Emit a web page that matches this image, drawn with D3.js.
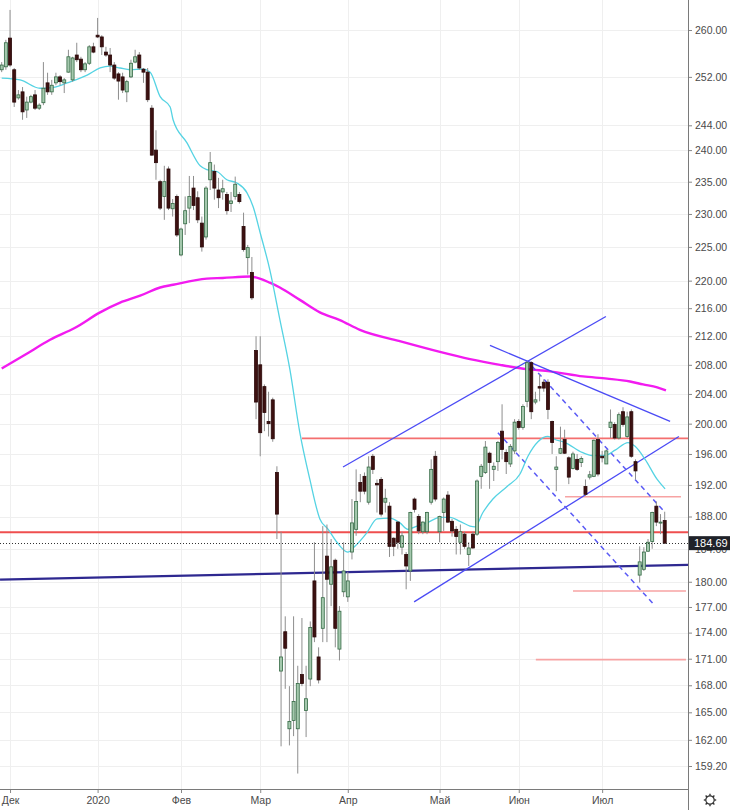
<!DOCTYPE html>
<html>
<head>
<meta charset="utf-8">
<script src="https://cdn.jsdelivr.net/npm/d3@7"></script>
<style>
  body { margin: 0; background: #fff; }
  svg { display: block; font-family: "Liberation Sans", Arial, sans-serif; }
</style>
</head>
<body>
<div id="chart"></div>
<script>
// daily candles, oldest first (late Nov 2019 .. mid Jul 2020)
var opens = [253.2,253.7,258.6,253.2,248.5,249.5,246.5,247.8,249.0,246.8,247.7,251.0,249.5,251.0,252.0,251.0,252.8,251.5,255.7,255.0,
  253.2,254.3,257.1,259.1,258.8,256.2,255.7,254.0,252.5,252.0,249.5,252.0,254.5,255.7,253.3,252.8,246.8,240.0,235.0,232.7,
  237.0,230.8,232.7,223.8,228.5,230.9,234.0,232.5,228.6,226.5,235.3,236.6,233.7,233.4,233.0,231.6,232.7,233.0,228.1,223.4,
  221.2,210.0,208.0,205.0,200.3,203.2,193.6,169.6,174.1,163.2,164.1,163.2,169.2,165.2,168.7,180.1,171.2,174.5,183.1,179.7,
  182.6,172.1,178.8,178.2,183.6,186.4,192.3,193.1,189.8,195.7,192.2,192.7,189.8,189.3,185.3,187.3,184.2,183.3,181.3,190.2,
  188.0,186.1,186.1,189.8,195.7,186.1,188.5,190.7,187.4,186.4,184.8,185.8,183.3,185.8,185.8,193.1,193.6,196.1,194.0,195.0,
  199.0,196.2,194.7,196.4,200.3,199.5,203.0,208.3,202.9,205.0,205.6,205.6,200.3,194.0,196.1,197.9,195.5,194.1,195.3,194.9,
  191.8,193.0,193.1,197.9,195.7,194.7,199.5,199.9,198.1,201.6,198.3,201.6,195.0,180.8,181.5,183.7,184.9,189.3,187.2,187.5];
var highs = [254.5,258.3,263.5,253.5,249.8,250.3,248.7,249.0,249.8,247.6,254.5,252.7,251.5,252.7,252.3,251.8,256.6,255.4,257.8,255.4,
  254.5,257.4,257.8,262.1,259.1,257.1,256.9,254.5,252.8,252.7,251.5,254.9,256.6,256.2,253.5,253.5,247.3,243.2,235.3,237.5,
  237.4,232.3,233.0,227.9,232.7,235.9,235.9,233.5,229.6,234.3,239.7,237.7,235.6,235.3,233.4,233.4,235.8,233.4,230.2,225.3,
  223.5,212.0,212.0,205.3,204.3,203.5,194.4,186.1,175.9,167.9,175.9,170.2,175.7,170.2,175.3,184.8,172.3,186.8,187.0,185.2,
  182.8,177.1,184.8,181.2,190.2,194.0,193.4,193.6,195.7,196.0,192.7,193.0,191.5,189.8,185.4,187.4,186.1,183.6,188.6,190.4,
  188.3,187.4,188.6,195.3,196.4,188.1,190.4,191.2,187.7,186.8,187.0,186.1,184.8,186.1,192.7,194.7,197.7,196.3,194.9,197.7,
  202.6,196.6,197.3,200.6,200.6,202.6,208.5,208.5,204.3,206.7,206.0,206.0,200.4,195.7,199.6,199.2,195.7,196.3,196.0,195.7,
  192.7,193.8,197.9,198.6,196.4,196.6,201.9,200.2,201.5,202.2,201.6,201.9,195.3,184.3,184.2,185.2,188.6,189.9,188.3,188.6];
var lows = [252.8,253.2,253.7,247.0,248.2,244.9,245.2,247.6,246.5,246.5,247.3,249.0,249.0,250.6,250.6,249.3,252.7,251.2,254.5,252.8,
  252.8,254.0,256.0,258.6,255.7,255.4,252.8,251.5,248.2,249.3,247.8,251.8,254.3,253.2,251.0,247.8,239.1,235.3,230.6,229.1,
  230.6,229.6,226.5,223.6,226.8,228.6,230.6,228.6,224.3,226.1,233.7,232.2,230.9,232.2,229.9,230.3,232.2,231.6,224.3,220.9,
  217.2,200.6,195.7,199.0,198.3,197.6,185.2,161.3,167.6,161.4,162.4,158.4,167.9,162.3,167.9,172.9,168.2,172.9,172.9,177.1,
  172.3,170.8,178.2,177.6,182.7,185.6,189.8,190.8,189.5,193.4,188.5,188.0,188.5,183.0,183.1,184.0,183.3,179.1,180.1,188.5,
  185.8,185.8,185.8,189.5,189.9,184.8,186.2,187.2,185.5,183.3,183.3,184.0,181.9,184.0,185.6,191.5,193.4,191.5,192.5,193.8,
  195.3,193.4,194.3,196.0,199.2,199.2,202.2,200.6,202.6,203.0,204.3,200.6,196.0,191.2,196.0,196.0,192.1,194.0,193.8,194.3,
  190.6,192.7,193.0,193.1,194.9,194.7,198.1,197.9,197.9,199.6,198.1,195.5,192.7,179.9,181.3,183.6,184.0,186.8,185.8,184.6];
var closes = [254.0,257.8,254.0,247.8,249.0,246.2,247.8,248.7,246.8,247.3,250.1,249.5,250.6,252.0,251.2,251.5,255.4,255.2,254.9,253.2,
  254.2,257.1,256.2,258.8,257.1,255.7,254.0,251.8,251.3,249.8,251.2,254.3,255.4,253.5,252.8,248.2,239.2,238.0,230.9,235.0,
  230.9,231.6,226.8,227.7,230.5,232.7,231.3,229.1,225.0,234.0,238.0,234.0,232.5,233.9,230.5,232.0,234.6,231.9,224.6,224.9,
  217.5,202.9,198.8,201.5,200.0,198.0,188.3,171.2,172.2,164.0,166.2,168.2,168.2,166.5,174.6,173.5,168.6,178.1,180.3,181.8,
  174.5,176.5,181.3,180.1,187.2,189.9,191.2,191.2,194.3,194.0,192.0,188.3,190.3,184.3,184.3,184.8,185.6,181.9,188.5,188.9,
  186.2,187.3,188.5,194.0,190.2,188.0,190.2,187.3,186.2,185.5,186.1,184.3,184.1,184.1,192.5,194.4,196.9,194.9,194.4,197.5,
  196.6,195.0,197.0,200.2,199.5,202.3,208.3,201.6,203.2,204.8,204.8,201.9,197.5,194.3,196.7,196.1,193.0,196.0,194.0,195.4,
  190.8,193.3,197.8,193.4,195.5,196.4,200.2,198.1,201.2,199.9,200.9,195.7,193.8,182.4,183.6,184.8,188.5,187.3,187.3,184.69];
var lastPrice = 184.69;

// axis labels
var yTicks = [260, 252, 244, 240, 235, 230, 225, 220, 216, 212, 208, 204, 200, 196, 192, 188, 184, 180, 177, 174, 171, 168, 165, 162, 159.2];
var monthLabels = ["Дек", "2020", "Фев", "Мар", "Апр", "Май", "Июн", "Июл"];
var monthIdx = [2, 23, 43, 62, 83, 105, 124, 144];

// moving averages (candle index, price)
var maFastIdx = [0, 4.4, 9.2, 12.8, 15.7, 20.5, 23.6, 26, 28.4, 30.8, 33.9, 35.6, 38, 40.4, 41.1, 44.4, 47.6, 49.2, 51.6, 54, 56.4, 58.8, 60.3, 62, 64.3, 66.7, 69.1, 71.5, 73.9, 76.3, 78.3, 80.4, 83, 84.7, 87.6, 90, 93.1, 95.5, 97.4, 99.6, 102, 105.1, 107.5, 109.9, 112.3, 113.5, 115.4, 117.8, 121.2, 124.3, 126.2, 128.6, 131, 132.7, 135.1, 139.2, 141.6, 144.7, 147.1, 150.2, 151.9, 154.3, 157.2, 159.1];
var maFastVal = [251.8, 251.5, 250.1, 250.3, 251.0, 252.3, 253.5, 253.8, 253.5, 253.2, 253.3, 252.8, 248.7, 247.0, 244.9, 241.2, 237.5, 236.9, 236.6, 235.3, 234.8, 233.3, 231.1, 227.1, 221.6, 214.4, 207.4, 198.8, 192.7, 187.7, 186.4, 184.8, 183.6, 184.3, 186.0, 187.7, 187.8, 187.2, 186.4, 186.8, 187.2, 187.9, 187.9, 187.4, 186.8, 186.7, 188.5, 190.2, 191.8, 193.4, 195.7, 197.6, 198.3, 197.9, 197.5, 196.2, 195.8, 195.8, 196.5, 197.5, 197.0, 195.3, 192.7, 191.5];
var maSlowIdx = [0, 5.6, 11.6, 17.6, 23.6, 28.4, 33.2, 38, 41.1, 49.2, 53, 59.5, 61.9, 64.3, 66.7, 71.5, 76.3, 81.1, 85.9, 95.5, 105.1, 112.3, 119.5, 126, 131.5, 139.4, 145.2, 150.7, 153.8, 157.2, 159.3];
var maSlowVal = [207.5, 209.4, 211.5, 213.2, 215.4, 216.8, 217.8, 219.0, 219.4, 220.3, 220.4, 220.6, 220.3, 219.7, 219.0, 217.2, 215.4, 214.3, 212.9, 211.3, 209.8, 208.8, 208.0, 207.4, 207.1, 206.4, 206.1, 205.7, 205.3, 204.9, 204.5];

// horizontal levels: price, from index, to index
var levelPrice = [198.05, 186.05, 190.5, 178.9, 170.9];
var levelFrom = [72, -1, 135.1, 137, 128.1];
var levelTo = [165, 165, 162.9, 164.1, 164.1];

// drawn trend lines: [index, price] end points
var supportLine = [[-0.4, 180.26], [164.6, 182.04]];
var channelTop = [[81.85, 194.3], [144.9, 214.8]];
var channelBottom = [[98.9, 177.6], [162.4, 198.3]];
var fallingTop = [[117.1, 210.7], [160.3, 200.3]];
var dashUpper = [[127.2, 207.8], [159.1, 188.5]];
var dashLower = [[119.0, 198.8], [156.2, 177.4]];

var width = 730, height = 810;
var plotRight = 688, plotBottom = 789;

var svg = d3.select("#chart").append("svg")
  .attr("width", width)
  .attr("height", height);

var x = d3.scaleLinear().domain([0, 159]).range([1.7, 664.7]);
var y = d3.scaleLog().domain([159.2, 260]).range([766, 30]);

svg.append("clipPath").attr("id", "plotClip")
  .append("rect").attr("x", 0).attr("y", 0).attr("width", plotRight).attr("height", plotBottom);

// grid
var grid = svg.append("g").attr("class", "grid");
grid.selectAll("line.h").data(yTicks).enter().append("line")
  .attr("x1", 0).attr("x2", plotRight)
  .attr("y1", function(d) { return Math.round(y(d)) + 0.5; })
  .attr("y2", function(d) { return Math.round(y(d)) + 0.5; })
  .attr("stroke", "#efefef");
grid.selectAll("line.v").data(monthIdx).enter().append("line")
  .attr("y1", 0).attr("y2", plotBottom)
  .attr("x1", function(d) { return Math.round(x(d)) + 0.5; })
  .attr("x2", function(d) { return Math.round(x(d)) + 0.5; })
  .attr("stroke", "#efefef");

var plot = svg.append("g").attr("clip-path", "url(#plotClip)");

// slow average (magenta)
var avgLine = d3.line()
  .x(function(d) { return x(d[0]); })
  .y(function(d) { return y(d[1]); })
  .curve(d3.curveMonotoneX);

plot.append("path")
  .datum(maSlowIdx.map(function(d, i) { return [d, maSlowVal[i]]; }))
  .attr("d", avgLine)
  .attr("fill", "none")
  .attr("stroke", "#f21bf0")
  .attr("stroke-width", 2.4);

// levels
var levelColor = ["#f46f6f", "#ef4f4f", "#f7a3a3", "#f7a3a3", "#f7a3a3"];
var levelWidth = [1.8, 2, 1.6, 1.6, 1.6];
plot.selectAll("line.level").data(levelPrice).enter().append("line")
  .attr("x1", function(d, i) { return x(levelFrom[i]); })
  .attr("x2", function(d, i) { return x(levelTo[i]); })
  .attr("y1", function(d) { return y(d); })
  .attr("y2", function(d) { return y(d); })
  .attr("stroke", function(d, i) { return levelColor[i]; })
  .attr("stroke-width", function(d, i) { return levelWidth[i]; });

// support line (navy)
function drawTrend(pts, color, w, dash) {
  plot.append("line")
    .attr("x1", x(pts[0][0])).attr("y1", y(pts[0][1]))
    .attr("x2", x(pts[1][0])).attr("y2", y(pts[1][1]))
    .attr("stroke", color)
    .attr("stroke-width", w)
    .attr("stroke-dasharray", dash || null);
}
drawTrend(supportLine, "#2e2890", 2.2);
drawTrend(channelTop, "#4b4bf5", 1.3);
drawTrend(channelBottom, "#4b4bf5", 1.3);
drawTrend(fallingTop, "#4b4bf5", 1.3);
drawTrend(dashUpper, "#5a5af5", 1.5, "5,4");
drawTrend(dashLower, "#5a5af5", 1.5, "5,4");

// fast average (cyan)
plot.append("path")
  .datum(maFastIdx.map(function(d, i) { return [d, maFastVal[i]]; }))
  .attr("d", avgLine)
  .attr("fill", "none")
  .attr("stroke", "#55d3e3")
  .attr("stroke-width", 1.3);

// candles
var candles = plot.selectAll("g.candle").data(opens).enter().append("g").attr("class", "candle");
candles.append("line")
  .attr("x1", function(d, i) { return x(i); })
  .attr("x2", function(d, i) { return x(i); })
  .attr("y1", function(d, i) { return y(highs[i]); })
  .attr("y2", function(d, i) { return y(lows[i]); })
  .attr("stroke", "#8e8e8e")
  .attr("stroke-width", 1);
candles.append("rect")
  .attr("x", function(d, i) { return x(i) - 1.5; })
  .attr("width", 3)
  .attr("y", function(d, i) { return y(Math.max(d, closes[i])); })
  .attr("height", function(d, i) { return Math.max(1, y(Math.min(d, closes[i])) - y(Math.max(d, closes[i]))); })
  .attr("fill", function(d, i) { return closes[i] >= d ? "#a4c8ad" : "#3d1111"; })
  .attr("stroke", function(d, i) { return closes[i] >= d ? "#356a45" : "#2a0808"; })
  .attr("stroke-width", 0.8);

// last price line
plot.append("line")
  .attr("x1", 0).attr("x2", plotRight)
  .attr("y1", Math.round(y(lastPrice)) + 0.5)
  .attr("y2", Math.round(y(lastPrice)) + 0.5)
  .attr("stroke", "#333")
  .attr("stroke-dasharray", "1,2");

// right price axis
var yAxis = d3.axisRight(y)
  .tickValues(yTicks)
  .tickFormat(d3.format(".2f"))
  .tickSize(4)
  .tickPadding(3);
var yAxisG = svg.append("g")
  .attr("transform", "translate(" + plotRight + ",0)")
  .call(yAxis);
yAxisG.select(".domain").remove();
yAxisG.selectAll("line").attr("stroke", "#888");
yAxisG.selectAll("text")
  .attr("fill", "#4a4a4a")
  .style("font-size", "10.5px");

svg.append("line")
  .attr("x1", plotRight + 0.5).attr("x2", plotRight + 0.5)
  .attr("y1", 0).attr("y2", height)
  .attr("stroke", "#7a7a7a");

// bottom time axis
var xAxis = d3.axisBottom(x)
  .tickValues(monthIdx)
  .tickFormat(function(d, i) { return monthLabels[i]; })
  .tickSize(4)
  .tickPadding(4);
var xAxisG = svg.append("g")
  .attr("transform", "translate(0," + plotBottom + ")")
  .call(xAxis);
xAxisG.select(".domain").remove();
xAxisG.selectAll("line").attr("stroke", "#888");
xAxisG.selectAll("text")
  .attr("fill", "#4a4a4a")
  .style("font-size", "10.5px");

svg.append("line")
  .attr("x1", 0).attr("x2", plotRight)
  .attr("y1", plotBottom + 0.5).attr("y2", plotBottom + 0.5)
  .attr("stroke", "#7a7a7a");

// last price label
var ly = y(lastPrice);
svg.append("rect")
  .attr("x", plotRight + 1).attr("y", ly - 7)
  .attr("width", 41).attr("height", 14)
  .attr("fill", "#1f2229");
svg.append("text")
  .attr("x", plotRight + 6).attr("y", ly + 4)
  .attr("fill", "#fff")
  .style("font-size", "11px")
  .text(lastPrice.toFixed(2));

// settings gear
var gear = svg.append("g").attr("transform", "translate(710,800)");
gear.append("circle").attr("r", 4.2).attr("fill", "none").attr("stroke", "#333").attr("stroke-width", 1.2);
d3.range(8).forEach(function(k) {
  var a = k * Math.PI / 4;
  gear.append("line")
    .attr("x1", Math.cos(a) * 4.2).attr("y1", Math.sin(a) * 4.2)
    .attr("x2", Math.cos(a) * 6.2).attr("y2", Math.sin(a) * 6.2)
    .attr("stroke", "#333").attr("stroke-width", 1.4);
});
</script>
</body>
</html>
